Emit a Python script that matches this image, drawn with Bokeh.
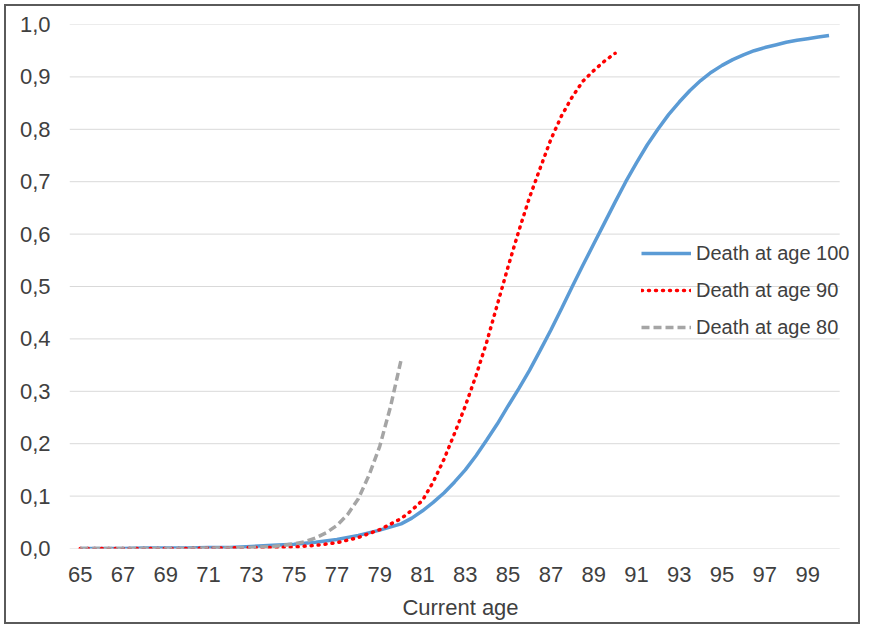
from bokeh.plotting import figure
from bokeh.models import Range1d, FixedTicker, CustomJSTickFormatter
from bokeh.embed import file_html
from bokeh.resources import INLINE

# ---- data ----
ages_100 = [65, 66, 67, 68, 69, 70, 71, 72, 73, 74, 75, 76, 77, 78, 79,
            80, 80.5, 81, 81.5, 82, 82.5, 83, 83.5, 84, 84.5,
            85, 85.5, 86, 86.5, 87, 87.5, 88, 88.5, 89, 89.5,
            90, 90.5, 91, 91.5, 92, 92.5, 93, 93.5, 94, 94.5,
            95, 95.5, 96, 96.5, 97, 97.5, 98, 98.5, 99, 99.5, 100]
death_100 = [0.000, 0.000, 0.000, 0.001, 0.001, 0.001, 0.002, 0.002, 0.004, 0.006,
             0.008, 0.012, 0.017, 0.025, 0.035,
             0.047, 0.058, 0.072, 0.088, 0.106, 0.127, 0.150, 0.177, 0.207, 0.238,
             0.272, 0.305, 0.340, 0.378, 0.417, 0.458, 0.500, 0.541, 0.581, 0.621,
             0.661, 0.700, 0.736, 0.770, 0.800, 0.828, 0.852, 0.874, 0.893, 0.909,
             0.922, 0.933, 0.942, 0.950, 0.956, 0.961, 0.966, 0.970, 0.973, 0.976,
             0.979]

ages_90 = [65, 66, 67, 68, 69, 70, 71, 72, 73, 74, 75, 76, 77, 78, 79,
           80, 80.5, 81, 81.5, 82, 82.5, 83, 83.5, 84, 84.5,
           85, 85.5, 86, 86.5, 87, 87.5, 88, 88.5, 89, 89.5, 90]
death_90 = [0.000, 0.000, 0.000, 0.000, 0.000, 0.000, 0.001, 0.001, 0.002, 0.002,
            0.003, 0.006, 0.011, 0.021, 0.036,
            0.057, 0.073, 0.092, 0.127, 0.170, 0.220, 0.272, 0.330, 0.394, 0.466,
            0.538, 0.606, 0.670, 0.726, 0.781, 0.826, 0.862, 0.892, 0.912, 0.930,
            0.945]

ages_80 = [65, 66, 67, 68, 69, 70, 71, 72, 73, 74, 74.5, 75, 75.5, 76, 76.5,
           77, 77.5, 78, 78.5, 79, 79.5, 80]
death_80 = [0.000, 0.000, 0.000, 0.000, 0.000, 0.000, 0.001, 0.001, 0.002, 0.004,
            0.006, 0.009, 0.013, 0.020, 0.030, 0.044, 0.065, 0.095, 0.140, 0.195,
            0.270, 0.360]

series_labels = ["Death at age 100", "Death at age 90", "Death at age 80"]
x_ticks = [65, 67, 69, 71, 73, 75, 77, 79, 81, 83, 85, 87, 89, 91, 93, 95, 97, 99]
y_ticks = [0.0, 0.1, 0.2, 0.3, 0.4, 0.5, 0.6, 0.7, 0.8, 0.9, 1.0]
x_title = "Current age"
x_extent = (64.5, 100.5)   # category band of the age axis

FONT = "Liberation Sans"
TXT = "#404040"

p = figure(width=856, height=620, output_backend="svg", toolbar_location=None,
           x_range=Range1d(64.5, 101.05), y_range=Range1d(0, 1.0),
           min_border_left=63, min_border_right=11, min_border_top=18,
           min_border_bottom=78)
p.styles = {"border": "2px solid #5a5a5a", "margin": "4px"}
p.outline_line_color = None
p.background_fill_color = "white"
p.border_fill_color = "white"

# horizontal grid lines, stopping at the end of the age band
p.xgrid.grid_line_color = None
p.ygrid.grid_line_color = None
p.segment(x0=[x_extent[0]] * len(y_ticks), x1=[x_extent[1]] * len(y_ticks),
          y0=y_ticks, y1=y_ticks, line_color="#D9D9D9", line_width=1)

p.line(ages_100, death_100, line_color="#5B9BD5", line_width=3.5,
       legend_label=series_labels[0])
p.line(ages_90, death_90, line_color="#FF0000", line_width=3.5,
       line_dash="1 6", line_cap="round", legend_label=series_labels[1])
p.line(ages_80, death_80, line_color="#A5A5A5", line_width=3.5,
       line_dash="8 4", legend_label=series_labels[2])

# axes
p.xaxis.ticker = FixedTicker(ticks=x_ticks)
p.xaxis.bounds = x_extent
p.yaxis.ticker = FixedTicker(ticks=y_ticks)
p.yaxis.formatter = CustomJSTickFormatter(code="return tick.toFixed(1).replace('.', ',');")
for ax in (p.xaxis[0], p.yaxis[0]):
    ax.axis_line_color = None
    ax.major_tick_line_color = None
    ax.minor_tick_line_color = None
    ax.major_label_text_font = FONT
    ax.major_label_text_font_size = "22px"
    ax.major_label_text_color = TXT
p.yaxis.major_label_standoff = 13
p.xaxis.major_label_standoff = 12
p.xaxis.axis_label = x_title
p.xaxis.axis_label_text_font = FONT
p.xaxis.axis_label_text_font_size = "22px"
p.xaxis.axis_label_text_font_style = "normal"
p.xaxis.axis_label_text_color = TXT
p.xaxis.axis_label_standoff = 10

# legend
lg = p.legend[0]
lg.location = (572, 209)
lg.border_line_color = None
lg.background_fill_alpha = 0
lg.padding = 0
lg.margin = 0
lg.spacing = 13
lg.glyph_width = 50
lg.glyph_height = 24
lg.label_height = 24
lg.label_standoff = 5
lg.label_text_font = FONT
lg.label_text_font_size = "20px"
lg.label_text_color = TXT

open("out.html", "w").write(file_html(p, INLINE))
